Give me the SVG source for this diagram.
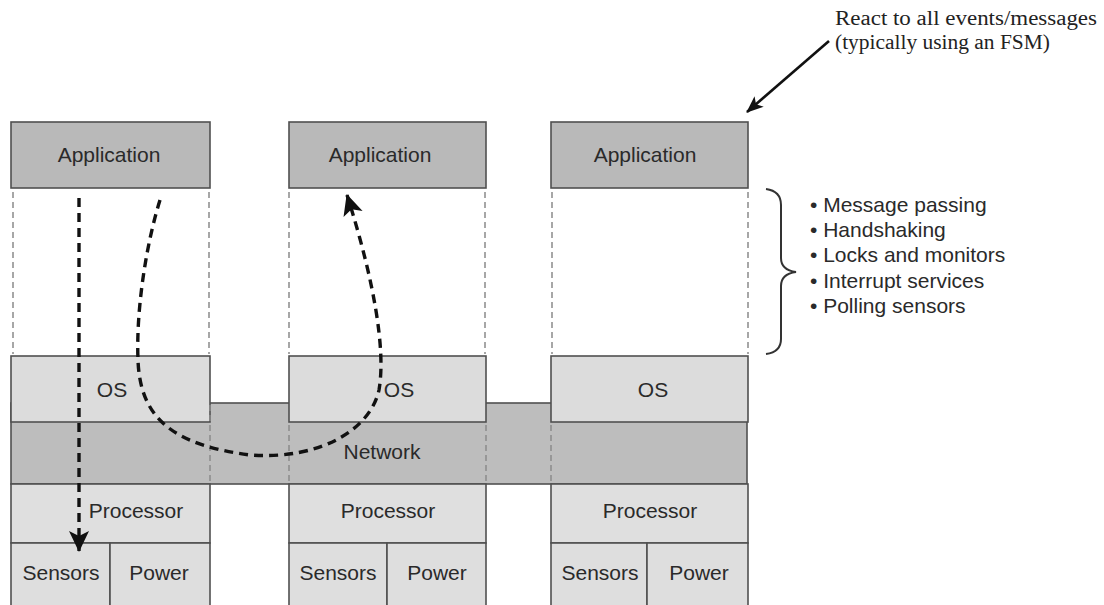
<svg xmlns="http://www.w3.org/2000/svg" width="1104" height="605" viewBox="0 0 1104 605">
<style>
.box{stroke:#505050;stroke-width:1.6}
.app{fill:#b9b9b9}
.os{fill:#dcdcdc}
.net{fill:#bdbdbd}
.proc{fill:#dfdfdf}
.low{fill:#dedede}
.lbl{font-family:"Liberation Sans",Arial,sans-serif;font-size:21px;fill:#2a2a2a;text-anchor:middle}
.lst{font-family:"Liberation Sans",Arial,sans-serif;font-size:21px;fill:#2a2a2a}
.note{font-family:"Liberation Serif","Times New Roman",serif;font-size:20px;fill:#222}
.guide{stroke:#8a8a8a;stroke-width:1.5;stroke-dasharray:6 4;fill:none}
.flow{stroke:#111;stroke-width:3.4;stroke-dasharray:9 6;fill:none}
</style>
<defs>
<marker id="ah" viewBox="-21 -11 23 22" refX="0" refY="0" markerWidth="23" markerHeight="22" markerUnits="userSpaceOnUse" orient="auto">
<path d="M1,0 L-20,-10 L-15,0 L-20,10 Z" fill="#111"/>
</marker>
<marker id="ah2" viewBox="-17 -8 19 16" refX="0" refY="0" markerWidth="19" markerHeight="16" markerUnits="userSpaceOnUse" orient="auto">
<path d="M1,0 L-16,-7 L-12,0 L-16,7 Z" fill="#111"/>
</marker>
</defs>

<g id="network">
<rect class="box net" x="11" y="403" width="736" height="81"/>
<text class="lbl" x="382" y="459">Network</text>
</g>

<g id="node1">
<rect class="box app" x="11" y="122" width="199" height="66"/>
<text class="lbl" x="109" y="162">Application</text>
<rect class="box os" x="11" y="356" width="199" height="66"/>
<text class="lbl" x="112" y="397">OS</text>
<rect class="box proc" x="11" y="484" width="199" height="59"/>
<text class="lbl" x="136" y="518">Processor</text>
<rect class="box low" x="11" y="543" width="99" height="70"/>
<text class="lbl" x="61" y="580">Sensors</text>
<rect class="box low" x="110" y="543" width="100" height="70"/>
<text class="lbl" x="159" y="580">Power</text>
</g>

<g id="node2">
<rect class="box app" x="289" y="122" width="197" height="66"/>
<text class="lbl" x="380" y="162">Application</text>
<rect class="box os" x="289" y="356" width="197" height="66"/>
<text class="lbl" x="399" y="397">OS</text>
<rect class="box proc" x="289" y="484" width="197" height="59"/>
<text class="lbl" x="388" y="518">Processor</text>
<rect class="box low" x="289" y="543" width="98" height="70"/>
<text class="lbl" x="338" y="580">Sensors</text>
<rect class="box low" x="387" y="543" width="99" height="70"/>
<text class="lbl" x="437" y="580">Power</text>
</g>

<g id="node3">
<rect class="box app" x="551" y="122" width="197" height="66"/>
<text class="lbl" x="645" y="162">Application</text>
<rect class="box os" x="551" y="356" width="197" height="66"/>
<text class="lbl" x="653" y="397">OS</text>
<rect class="box proc" x="551" y="484" width="197" height="59"/>
<text class="lbl" x="650" y="518">Processor</text>
<rect class="box low" x="551" y="543" width="96" height="70"/>
<text class="lbl" x="600" y="580">Sensors</text>
<rect class="box low" x="647" y="543" width="101" height="70"/>
<text class="lbl" x="699" y="580">Power</text>
</g>

<g id="guides">
<line class="guide" x1="13" y1="192" x2="13" y2="354"/>
<line class="guide" x1="209" y1="192" x2="209" y2="354"/>
<line class="guide" x1="289" y1="192" x2="289" y2="354"/>
<line class="guide" x1="485" y1="192" x2="485" y2="354"/>
<line class="guide" x1="552" y1="192" x2="552" y2="354"/>
<line class="guide" x1="748" y1="192" x2="748" y2="354"/>
<line class="guide" x1="210" y1="405" x2="210" y2="482"/>
<line class="guide" x1="289" y1="425" x2="289" y2="482"/>
<line class="guide" x1="486" y1="425" x2="486" y2="482"/>
<line class="guide" x1="551" y1="425" x2="551" y2="482"/>
</g>

<g id="annotations">
<path d="M766,189 Q781,191 781,205 L781,258 Q781,270 796,272 Q781,274 781,286 L781,339 Q781,352 766,354" fill="none" stroke="#333" stroke-width="2"/>
<text class="lst" x="810" y="212">• Message passing</text>
<text class="lst" x="810" y="237">• Handshaking</text>
<text class="lst" x="810" y="262">• Locks and monitors</text>
<text class="lst" x="810" y="288">• Interrupt services</text>
<text class="lst" x="810" y="313">• Polling sensors</text>
<text class="note" x="835" y="25" textLength="262" lengthAdjust="spacingAndGlyphs">React to all events/messages</text>
<text class="note" x="835" y="49" textLength="215" lengthAdjust="spacingAndGlyphs">(typically using an FSM)</text>
</g>

<g id="connectors">
<line x1="829" y1="41" x2="747" y2="112" stroke="#111" stroke-width="2.6" marker-end="url(#ah2)"/>
<line class="flow" x1="79" y1="198" x2="79" y2="551" marker-end="url(#ah)"/>
<path class="flow" d="M160,200 C146,245 136,310 138,360 C140,420 175,445 250,455 C320,460 370,430 379,390 C386,350 374,280 347,195" marker-end="url(#ah)"/>
</g>
</svg>
